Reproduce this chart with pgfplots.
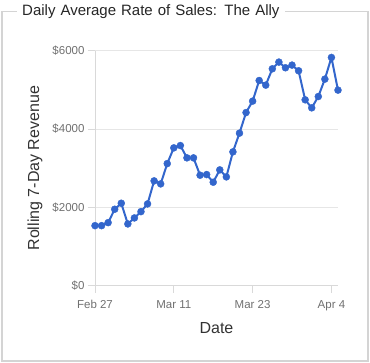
\documentclass[border=0pt]{standalone}
\usepackage{pgfplots}
\pgfplotsset{compat=1.18}
\usepackage{fontspec}
\setmainfont{Liberation Sans}
\definecolor{gchart}{HTML}{3366CC}
\definecolor{gridc}{HTML}{E6E6E6}
\definecolor{axc}{HTML}{D9D9D9}
\definecolor{tickc}{HTML}{707070}
\definecolor{labc}{HTML}{333333}
\definecolor{framec}{HTML}{D4D4D4}
\begin{document}
\begin{tikzpicture}[x=1pt,y=1pt]
\path[use as bounding box] (0,0) rectangle (370,363);
\draw[framec, line width=1.5pt] (2,2) rectangle (368,351.5);
\node[fill=white, anchor=west, inner sep=0pt, minimum height=16pt, minimum width=268pt, text width=268pt, align=left, font=\fontsize{15}{17}\selectfont, text=black!85] at (17,351.5) {\hspace*{5pt}Daily Average Rate of Sales: The Ally};
\begin{axis}[
  at={(95pt,77.3pt)}, anchor=south west,
  scale only axis, width=243pt, height=235pt,
  xmin=0, xmax=37, ymin=0, ymax=6000,
  axis x line*=bottom, axis y line*=left,
  axis line style={axc, line width=1pt, -},
  xtick={0,12,24,36},
  xticklabels={Feb 27, Mar 11, Mar 23, Apr 4},
  ytick={0,2000,4000,6000},
  yticklabels={\$0,\$2000,\$4000,\$6000},
  tick align=outside, major tick length=7pt,
  tick style={axc, line width=1pt},
  ymajorgrids, grid style={gridc, line width=1pt},
  ticklabel style={font=\fontsize{11.5}{13}\selectfont, text=tickc},
  xticklabel style={yshift=-4pt},
  /pgf/number format/assume math mode=true,
  xlabel={Date}, ylabel={Rolling 7-Day Revenue},
  label style={font=\fontsize{16}{18}\selectfont, text=labc},
  xlabel style={at={(axis description cs:0.5,-0.179)}, anchor=center},
  ylabel style={at={(axis description cs:-0.247,0.5)}, anchor=center},
  clip=false,
]
\addplot[gchart, line width=2pt, mark=*, mark size=3.5pt, mark options={fill=gchart, draw=gchart, line width=0.4pt, solid}] coordinates {
(0,1533) (1,1533) (2,1610) (3,1952) (4,2105) (5,1577) (6,1730) (7,1891)
(8,2088) (9,2676) (10,2599) (11,3118) (12,3519) (13,3578) (14,3264) (15,3264)
(16,2821) (17,2837) (18,2642) (19,2957) (20,2778) (21,3417) (22,3895) (23,4421)
(24,4712) (25,5239) (26,5121) (27,5538) (28,5709) (29,5564) (30,5632) (31,5487)
(32,4746) (33,4541) (34,4830) (35,5274) (36,5827) (37,4993)
};
\end{axis}
\end{tikzpicture}
\end{document}
